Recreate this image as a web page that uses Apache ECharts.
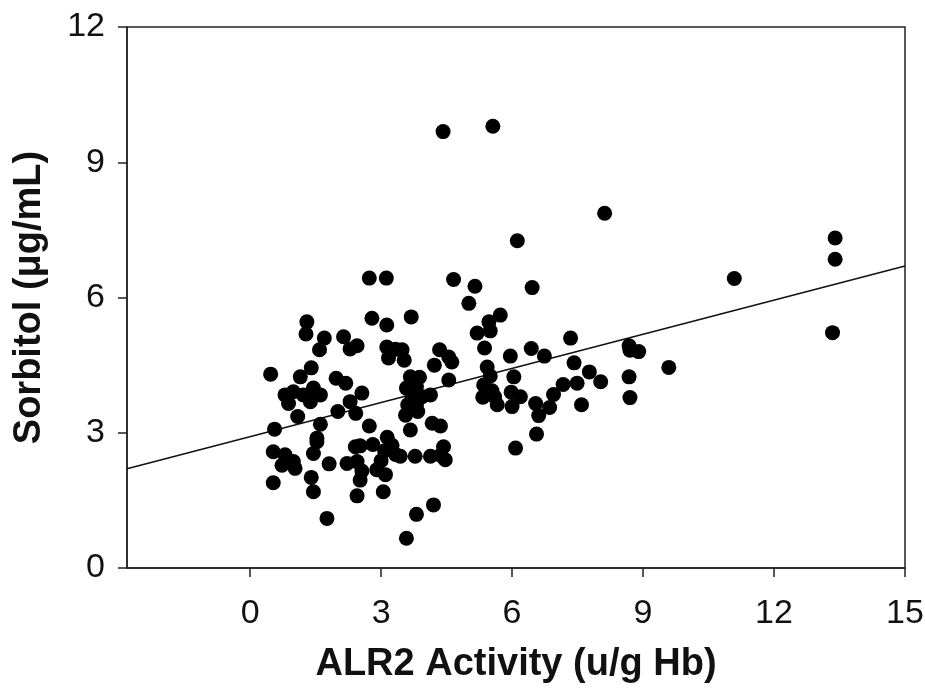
<!DOCTYPE html>
<html>
<head>
<meta charset="utf-8">
<script src="https://cdn.jsdelivr.net/npm/echarts@6/dist/echarts.min.js"></script>
<style>
html,body{margin:0;padding:0;background:#fff;}
#chart{width:925px;height:691px;}
</style>
</head>
<body>
<div id="chart"></div>
<script>
// ALR2 activity (u/g Hb) values
const alr2 = [
  0.47, 1.15, 1.40, 1.97, 2.19, 2.56,
  0.80, 0.99, 0.88, 1.22, 1.45, 1.61, 1.38,
  2.29, 2.42, 2.01, 1.09, 1.61, 0.56, 2.73, 1.53,
  0.53, 0.80, 0.73, 0.99, 1.03, 0.53, 1.53, 1.45, 1.81, 1.40, 1.45, 1.76,
  2.22, 2.41, 2.52, 2.81, 2.45, 2.56, 2.52, 2.45,
  3.14, 3.25, 3.08, 3.33, 3.00, 2.90, 3.10, 3.05, 3.44,
  3.78, 3.67, 4.13, 4.36, 4.47, 4.17, 4.36, 4.43, 4.20, 3.81, 3.58,
  1.30, 1.28, 1.70, 1.59, 2.14, 2.29, 2.45,
  3.13, 3.33, 3.48, 3.17, 3.53,
  2.79, 3.13, 3.69, 2.73, 3.12,
  3.67, 3.88, 3.58, 3.81, 3.71, 3.94, 4.13, 3.61, 3.81, 3.56, 3.84,
  4.55, 4.22, 4.34, 4.55, 4.62,
  4.42, 5.56, 4.66, 5.15, 5.01, 6.12, 6.46, 8.12,
  5.47, 5.73, 5.20, 5.50, 5.37, 5.96, 6.44, 6.74,
  7.34, 7.42, 7.77, 8.03,
  5.43, 5.50, 6.04,
  5.35, 5.54, 5.33, 5.60, 5.66,
  5.98, 6.19, 6.00, 6.54, 6.61, 6.86, 6.95, 7.17, 7.49, 7.59,
  6.56, 6.08,
  8.68, 8.70, 8.90, 8.68, 8.70, 9.59,
  11.09, 13.40, 13.40, 13.34
];
// Sorbitol (µg/mL) values
const sorbitol = [
  4.30, 4.24, 4.44, 4.21, 4.10, 3.88,
  3.84, 3.91, 3.65, 3.84, 3.99, 3.84, 3.69,
  3.69, 3.43, 3.47, 3.36, 3.19, 3.08, 3.15, 2.88,
  2.58, 2.51, 2.28, 2.36, 2.21, 1.89, 2.80, 2.54, 2.31, 2.01, 1.69, 1.10,
  2.32, 2.69, 2.71, 2.74, 2.36, 2.15, 1.95, 1.60,
  2.90, 2.72, 2.60, 2.52, 2.38, 2.18, 2.07, 1.69, 2.48,
  2.48, 3.06, 2.48, 2.50, 2.40, 3.21, 3.15, 2.69, 1.40, 1.19, 0.66,
  5.46, 5.19, 5.10, 4.84, 5.13, 4.86, 4.93,
  4.90, 4.85, 4.84, 4.66, 4.61,
  5.54, 5.39, 5.57, 6.43, 6.43,
  4.24, 4.23, 3.99, 4.02, 3.80, 3.80, 3.84, 3.62, 3.62, 3.39, 3.47,
  4.17, 4.50, 4.84, 4.68, 4.57,
  9.68, 9.80, 6.40, 6.25, 5.87, 7.26, 6.22, 7.87,
  5.46, 5.61, 5.21, 5.26, 4.88, 4.70, 4.87, 4.70,
  5.10, 4.55, 4.35, 4.13,
  4.46, 4.26, 4.24,
  4.06, 3.93, 3.79, 3.80, 3.62,
  3.90, 3.80, 3.58, 3.65, 3.38, 3.56, 3.85, 4.07, 4.10, 3.62,
  2.97, 2.66,
  4.93, 4.83, 4.80, 4.24, 3.78, 4.45,
  6.42, 7.32, 6.85, 5.22
];
// Regression line end points
const regX = [-2.82, 15];
const regY = [2.2, 6.7];
// Tick labels
const xTicks = [0, 3, 6, 9, 12, 15];
const yTicks = [0, 3, 6, 9, 12];

const pts = alr2.map((x, i) => [x, sorbitol[i]]);
const reg = regX.map((x, i) => [x, regY[i]]);

const chart = echarts.init(document.getElementById('chart'), null, {renderer: 'canvas'});
const FONT = '"Liberation Sans", Arial, sans-serif';
chart.setOption({
  backgroundColor: '#fff',
  animation: false,
  grid: {left: 127, right: 20, top: 27, bottom: 123, containLabel: false, outerBoundsMode: 'none',
         show: true, borderColor: '#222', borderWidth: 1.5, backgroundColor: 'transparent'},
  xAxis: {
    type: 'value', min: regX[0], max: 15,
    name: 'ALR2 Activity (u/g Hb)', nameLocation: 'middle', nameGap: 78,
    nameTextStyle: {fontFamily: FONT, fontWeight: 'bold', fontSize: 38, color: '#111'},
    axisLine: {show: true, onZero: false, lineStyle: {color: '#222', width: 1.5}},
    axisTick: {show: true, inside: false, length: 9, lineStyle: {color: '#222', width: 1.5}, customValues: xTicks},
    axisLabel: {color: '#111', fontFamily: FONT, fontSize: 34, margin: 29, customValues: xTicks, hideOverlap: false},
    splitLine: {show: false}
  },
  yAxis: {
    type: 'value', min: 0, max: 12, interval: 3,
    name: 'Sorbitol (μg/mL)', nameLocation: 'middle', nameGap: 78,
    nameTextStyle: {fontFamily: FONT, fontWeight: 'bold', fontSize: 38, color: '#111'},
    axisLine: {show: true, onZero: false, lineStyle: {color: '#222', width: 1.5}},
    axisTick: {show: true, inside: false, length: 9, lineStyle: {color: '#222', width: 1.5}},
    axisLabel: {color: '#111', fontFamily: FONT, fontSize: 34, margin: 22},
    splitLine: {show: false}
  },
  series: [
    {
      type: 'line', data: reg, symbol: 'none', silent: true,
      lineStyle: {color: '#111', width: 1.5}, z: 1
    },
    {
      type: 'scatter', data: pts, symbol: 'circle', symbolSize: 15,
      itemStyle: {color: '#000', opacity: 1}, z: 2
    }
  ]
});
</script>
</body>
</html>
